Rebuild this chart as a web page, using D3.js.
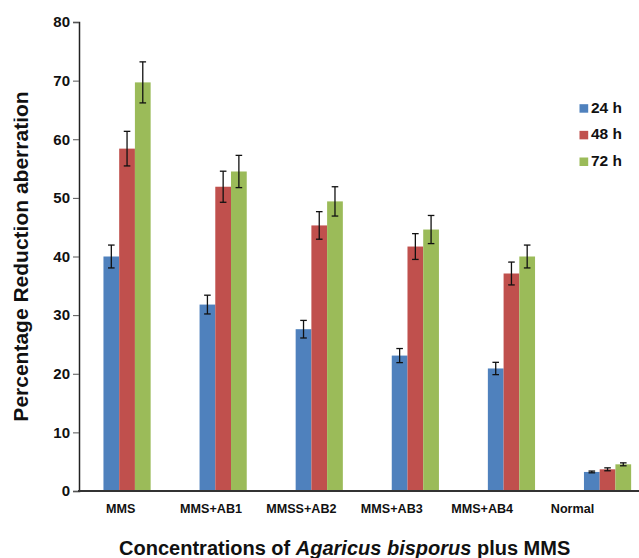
<!DOCTYPE html>
<html>
<head>
<meta charset="utf-8">
<script src="https://cdn.jsdelivr.net/npm/d3@7"></script>
<style>
  html, body { margin: 0; padding: 0; background: #fff; }
  svg { display: block; font-family: Arial, "Liberation Sans", sans-serif; }
</style>
</head>
<body>
<svg id="chart" width="639" height="558"></svg>
<script>
const categories = ["MMS", "MMS+AB1", "MMSS+AB2", "MMS+AB3", "MMS+AB4", "Normal"];
const seriesNames = ["24 h", "48 h", "72 h"];
const values24 = [40.0, 31.8, 27.6, 23.1, 20.9, 3.25];
const values48 = [58.4, 51.9, 45.3, 41.7, 37.1, 3.7];
const values72 = [69.7, 54.5, 49.4, 44.6, 40.0, 4.55];
const errors24 = [1.95, 1.6, 1.5, 1.2, 1.05, 0.15];
const errors48 = [2.95, 2.65, 2.35, 2.2, 1.95, 0.25];
const errors72 = [3.5, 2.75, 2.5, 2.4, 1.95, 0.25];
const colors = ["#4F81BD", "#C0504D", "#9BBB59"];
const yTicks = [0, 10, 20, 30, 40, 50, 60, 70, 80];

const seriesValues = [values24, values48, values72];
const seriesErrors = [errors24, errors48, errors72];

const svg = d3.select("#chart");

const y = d3.scaleLinear().domain([0, 80]).range([491, 22]);
const x0 = d3.scaleBand().domain(categories).range([79, 655.6]).paddingInner(0.509).paddingOuter(0.2545);
const x1 = d3.scaleBand().domain(seriesNames).range([0, x0.bandwidth()]).padding(0);
const xLabel = d3.scalePoint().domain(categories).range([75.5, 617.7]).padding(0.5);

// bars
const data = [];
categories.forEach((c, i) => {
  seriesNames.forEach((s, j) => {
    data.push({ cat: c, ser: s, v: seriesValues[j][i], e: seriesErrors[j][i], color: colors[j] });
  });
});

svg.append("g").selectAll("rect").data(data).join("rect")
  .attr("x", d => x0(d.cat) + x1(d.ser))
  .attr("y", d => y(d.v))
  .attr("width", x1.bandwidth())
  .attr("height", d => y(0) - y(d.v))
  .attr("fill", d => d.color);

// error bars
const eg = svg.append("g").attr("stroke", "#111").attr("stroke-width", 1.3);
data.forEach(d => {
  const cx = x0(d.cat) + x1(d.ser) + x1.bandwidth() / 2;
  const cap = 3.3;
  eg.append("line").attr("x1", cx).attr("x2", cx).attr("y1", y(d.v + d.e)).attr("y2", y(d.v - d.e));
  eg.append("line").attr("x1", cx - cap).attr("x2", cx + cap).attr("y1", y(d.v + d.e)).attr("y2", y(d.v + d.e));
  eg.append("line").attr("x1", cx - cap).attr("x2", cx + cap).attr("y1", y(d.v - d.e)).attr("y2", y(d.v - d.e));
});

// y axis
const yAxis = d3.axisLeft(y).tickValues(yTicks).tickSize(6).tickPadding(3);
const yg = svg.append("g").attr("transform", "translate(79,0)").call(yAxis);
yg.select(".domain").attr("stroke", "#222").attr("stroke-width", 1.5);
yg.selectAll(".tick line").attr("stroke", "#555").attr("stroke-width", 1);
yg.selectAll(".tick text").attr("font-size", 15).attr("font-weight", "bold").attr("fill", "#111")
  .attr("font-family", "Arial, 'Liberation Sans', sans-serif");

// x axis line
svg.append("line").attr("x1", 78).attr("x2", 639).attr("y1", y(0)).attr("y2", y(0))
  .attr("stroke", "#333").attr("stroke-width", 2);

// x labels
svg.append("g").selectAll("text").data(categories).join("text")
  .attr("x", d => xLabel(d))
  .attr("y", 512.7)
  .attr("text-anchor", "middle")
  .attr("font-size", 12.6)
  .attr("font-weight", "bold")
  .attr("fill", "#111")
  .text(d => d);

// axis titles
svg.append("defs").append("clipPath").attr("id", "ytclip")
  .append("rect").attr("x", 13.5).attr("y", 0).attr("width", 60).attr("height", 558);
svg.append("g").attr("clip-path", "url(#ytclip)")
  .append("text")
  .attr("transform", "translate(27.5,256.5) rotate(-90)")
  .attr("text-anchor", "middle")
  .attr("font-size", 21)
  .attr("font-weight", "bold")
  .attr("fill", "#111")
  .text("Percentage Reduction aberration");

const xt = svg.append("text")
  .attr("x", 344.7).attr("y", 554.5)
  .attr("text-anchor", "middle")
  .attr("font-size", 20)
  .attr("font-weight", "bold")
  .attr("fill", "#111");
xt.append("tspan").text("Concentrations of ");
xt.append("tspan").attr("font-style", "italic").text("Agaricus bisporus");
xt.append("tspan").text(" plus MMS");

// legend
const legY = d3.scalePoint().domain(seriesNames).range([112.7, 166]);
const lg = svg.append("g");
seriesNames.forEach((s, j) => {
  lg.append("rect").attr("x", 579.5).attr("y", legY(s) - 8.5).attr("width", 8.7).attr("height", 8.5).attr("fill", colors[j]);
  lg.append("text").attr("x", 591).attr("y", legY(s)).attr("font-size", 15.5).attr("font-weight", "bold")
    .attr("fill", "#111").text(s);
});
</script>
</body>
</html>
